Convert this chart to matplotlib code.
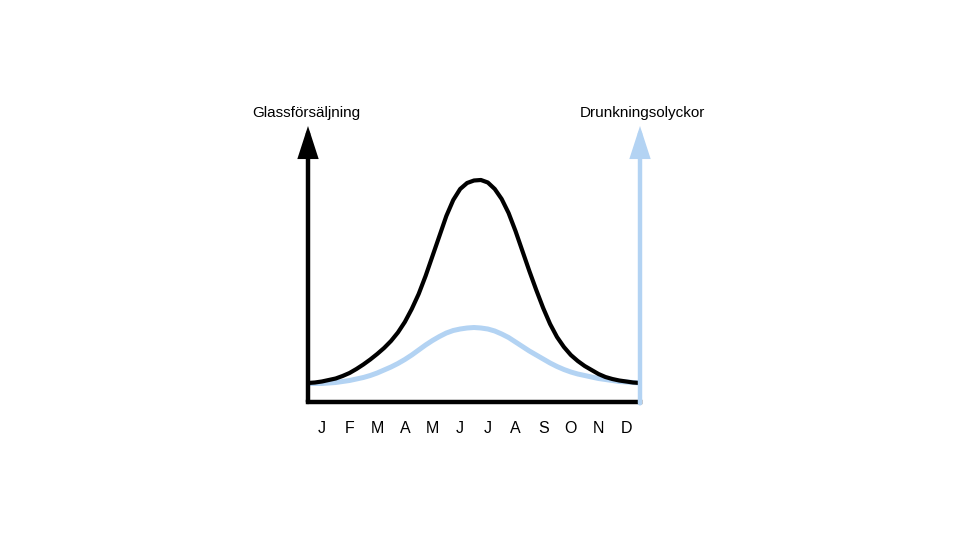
import matplotlib.pyplot as plt

# Månader och avlästa värden (kvartsmånadssteg, godtyckliga enheter)
months = ["J", "F", "M", "A", "M", "J", "J", "A", "S", "O", "N", "D"]
x_vals = [i * 0.25 for i in range(49)]
glass = [19, 19.5, 20.5, 22, 23.5, 26, 29, 33, 37.5, 42.5, 48, 54, 61,
         69.5, 80, 93, 108, 126, 146, 166, 186, 202, 213, 219, 221.5, 222,
         219.5, 213, 203, 189, 171, 151, 131, 112, 94, 78, 65, 55, 47, 41,
         36, 32, 28, 25, 23, 21.5, 20.5, 19.5, 19]
drunkning = [18.5, 18.5, 18.5, 19, 19.5, 20.5, 21.5, 23, 24.5, 26.5,
             29, 32, 35, 38.5, 42.5, 47, 52, 57, 61.5, 65.5,
             69, 71.5, 73, 74, 74.5, 74, 73, 71, 68, 64.5,
             60, 55.5, 51, 47, 43, 39, 35.5, 32.5, 30, 28,
             26.5, 25, 23.5, 22.5, 21.5, 20.5, 20, 19.5, 19]

BLUE = "#b3d3f3"

fig = plt.figure(figsize=(9.6, 5.4), dpi=100)
ax = fig.add_axes([308 / 960, 138 / 540, 332 / 960, 276 / 540])

ax.plot(x_vals, drunkning, color=BLUE, lw=3.6, solid_joinstyle="round",
        solid_capstyle="butt", zorder=2)
ax.plot(x_vals, glass, color="black", lw=3.0, solid_joinstyle="round",
        solid_capstyle="butt", zorder=3)

ax.set_xlim(0, 12)
ax.set_ylim(0, 276)
for s in ax.spines.values():
    s.set_visible(False)

# axlar med pilar
ax.plot([0, 12], [0, 0], color="black", lw=3.2, solid_capstyle="projecting",
        zorder=4, clip_on=False)
arrow = "-|>,head_length=1.7,head_width=0.55"
ax.annotate("", xy=(0, 1), xytext=(0, 0), xycoords="axes fraction",
            arrowprops=dict(arrowstyle=arrow, color="black", lw=3.2,
                            shrinkA=0, shrinkB=0, joinstyle="miter"),
            zorder=5)
ax.annotate("", xy=(1, 1), xytext=(1, -0.005), xycoords="axes fraction",
            arrowprops=dict(arrowstyle=arrow, color=BLUE, lw=3.2,
                            shrinkA=0, shrinkB=0, joinstyle="miter"),
            zorder=5)

ax.set_xticks([i + 0.5 for i in range(12)])
ax.set_xticklabels(months, fontsize=11.5, family="Liberation Sans")
ax.tick_params(axis="x", length=0, pad=14)
ax.set_yticks([])

fig.text(306 / 960, 1 - 113 / 540, "Glassförsäljning", ha="center", va="center",
         fontsize=11, family="Liberation Sans")
fig.text(642 / 960, 1 - 113 / 540, "Drunkningsolyckor", ha="center", va="center",
         fontsize=11, family="Liberation Sans")

fig.savefig("out.png", dpi=100)
